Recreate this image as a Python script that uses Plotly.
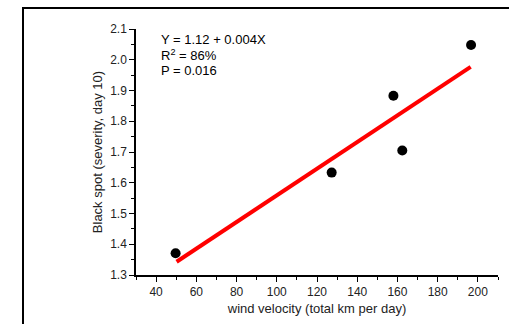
import plotly.graph_objects as go

wind = [49.7, 127.3, 158.0, 162.4, 196.6]
severity = [1.371, 1.633, 1.883, 1.705, 2.048]
fit_x = [50.2, 196.4]
fit_y = [1.343, 1.977]
x_range = [30, 210]
y_range = [1.3, 2.1]
annot_lines = ["Y = 1.12 + 0.004X", "R<sup>2</sup> = 86%", "P = 0.016"]

fig = go.Figure()
fig.add_trace(go.Scatter(x=fit_x, y=fit_y, mode="lines",
                         line=dict(color="#ff0000", width=4), showlegend=False))
fig.add_trace(go.Scatter(x=wind, y=severity, mode="markers",
                         marker=dict(color="black", size=10), showlegend=False))

L, R, T, B = 136, 11, 29, 49
W, H = 509, 324
pw, ph = W - L - R, H - T - B

def px(xp):
    return (xp - L) / pw

def py(yp):
    return (H - B - yp) / ph

fig.add_shape(type="rect", xref="paper", yref="paper",
              x0=px(23), x1=px(560), y0=py(400), y1=py(8),
              line=dict(color="black", width=2), layer="above")

for t, yc in zip(annot_lines, [40, 55, 70]):
    fig.add_annotation(xref="paper", yref="paper", x=px(159), y=py(yc),
                       text=t, showarrow=False, xanchor="left", yanchor="middle",
                       font=dict(size=13, color="black"))

axis_common = dict(showline=True, linecolor="black", linewidth=1.5, ticks="outside",
                   ticklen=5, tickcolor="black", showgrid=False, zeroline=False,
                   tickfont=dict(size=12, color="#222"), mirror=False)

fig.update_xaxes(range=x_range, tick0=40, dtick=20,
                 minor=dict(ticks="outside", ticklen=3, dtick=10, tick0=30, tickcolor="black"),
                 title=dict(text="wind velocity (total km per day)", font=dict(size=13, color="#222"), standoff=6),
                 **axis_common)
fig.update_yaxes(range=y_range, tick0=1.3, dtick=0.1, tickformat=".1f",
                 minor=dict(ticks="outside", ticklen=3, dtick=0.05, tick0=1.3, tickcolor="black"),
                 title=dict(text="Black spot (severity, day 10)", font=dict(size=13, color="#222"), standoff=5),
                 **axis_common)

fig.update_layout(width=W, height=H, margin=dict(l=L, r=R, t=T, b=B),
                  paper_bgcolor="white", plot_bgcolor="white",
                  font=dict(family="Liberation Sans, Arial, sans-serif"))

fig.write_html("out.html")
